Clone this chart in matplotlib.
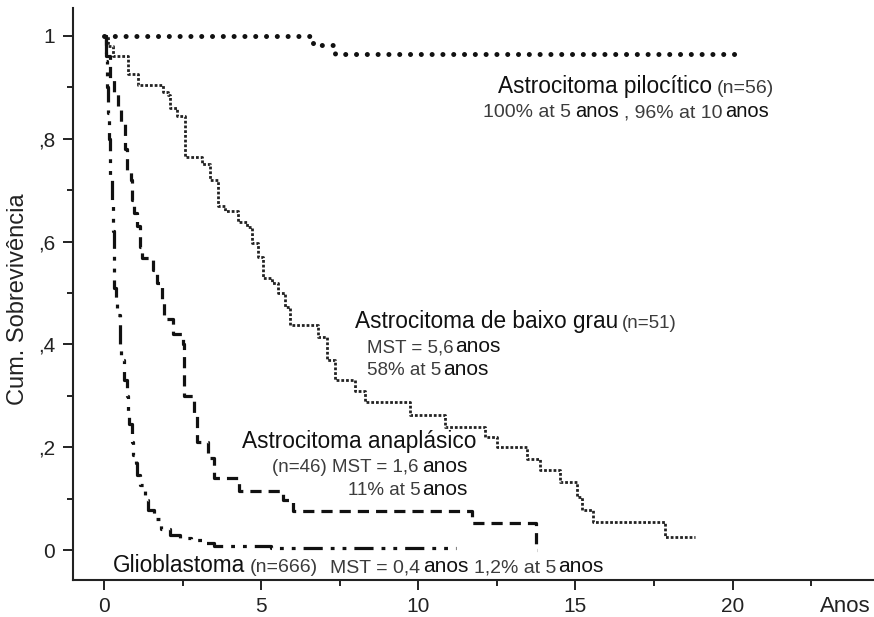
import matplotlib
matplotlib.use("Agg")
import matplotlib.pyplot as plt
from matplotlib.transforms import IdentityTransform

plt.rcParams['font.family'] = ['Liberation Sans', 'DejaVu Sans']

# Kaplan-Meier curves (time in years, cumulative survival)
pilo_t = [0, 6.65, 7.35, 20.3]
pilo_s = [1.0, 0.982, 0.964, 0.964]

baixo_t = [0, 0.13, 0.29, 0.76, 1.08, 1.88, 2.03, 2.1, 2.32, 2.58, 3.12, 3.37,
           3.62, 3.85, 4.26, 4.55, 4.71, 4.9, 5.06, 5.34, 5.53, 5.76, 5.91, 6.8,
           7.09, 7.34, 7.98, 8.3, 9.73, 10.84, 12.11, 12.5, 13.45, 13.86, 14.5,
           15.04, 15.2, 15.55, 17.84, 18.79]
baixo_s = [1.0, 0.98, 0.96, 0.925, 0.905, 0.89, 0.885, 0.86, 0.845, 0.765, 0.75, 0.72,
           0.67, 0.66, 0.638, 0.628, 0.597, 0.57, 0.53, 0.52, 0.50, 0.473, 0.438, 0.414,
           0.37, 0.33, 0.31, 0.288, 0.263, 0.24, 0.22, 0.20, 0.177, 0.156, 0.133,
           0.103, 0.078, 0.054, 0.025, 0.025]

ana_t = [0, 0.05, 0.2, 0.3, 0.45, 0.55, 0.65, 0.72, 0.85, 0.9, 0.95, 1.05, 1.15,
         1.2, 1.55, 1.68, 1.83, 1.9, 2.2, 2.5, 2.55, 2.85, 2.95, 3.3, 3.5, 4.3,
         5.7, 6.0, 11.7, 13.75, 13.77]
ana_s = [1.0, 0.96, 0.915, 0.89, 0.86, 0.83, 0.78, 0.74, 0.72, 0.68, 0.655, 0.63, 0.59,
         0.568, 0.545, 0.52, 0.486, 0.45, 0.42, 0.40, 0.30, 0.26, 0.21, 0.18, 0.14, 0.115,
         0.097, 0.076, 0.053, 0.0, 0.0]

glio_t = [0, 0.05, 0.1, 0.12, 0.15, 0.18, 0.2, 0.26, 0.28, 0.3, 0.33, 0.38, 0.42,
          0.5, 0.55, 0.63, 0.72, 0.76, 0.8, 0.88, 0.92, 1.0, 1.05, 1.15, 1.3, 1.4,
          1.6, 1.8, 2.1, 2.4, 2.75, 3.1, 3.5, 5.3, 11.2]
glio_s = [1.0, 0.95, 0.90, 0.85, 0.80, 0.78, 0.73, 0.67, 0.62, 0.58, 0.51, 0.49, 0.457,
          0.40, 0.37, 0.33, 0.30, 0.27, 0.245, 0.21, 0.185, 0.17, 0.146, 0.126, 0.097, 0.078,
          0.06, 0.042, 0.03, 0.024, 0.02, 0.014, 0.008, 0.004, 0.004]

x_ticks = [0, 5, 10, 15, 20]
x_minor = [2.5, 7.5, 12.5, 17.5, 22.5]
y_ticks = [0, 0.2, 0.4, 0.6, 0.8, 1.0]
y_labels = ['0', ',2', ',4', ',6', ',8', '1']
y_minor = [0.1, 0.3, 0.5, 0.7, 0.9]

BLACK = '#111111'
GRAY = '#3c3c3c'

fig = plt.figure(figsize=(8.74, 6.17), dpi=100)
ax = fig.add_axes([73 / 874, 37 / 617, 801 / 874, 572 / 617])

ax.plot(pilo_t, pilo_s, drawstyle='steps-post', color=BLACK, lw=3.6,
        linestyle=(0, (0.01, 2.15)), dash_capstyle='round')
ax.plot(baixo_t, baixo_s, drawstyle='steps-post', color='#222222', lw=2.0,
        linestyle=(0, (1, 0.7)))
ax.plot(ana_t, ana_s, drawstyle='steps-post', color=BLACK, lw=2.3,
        linestyle=(0, (3.5, 2.2)))
ax.plot(glio_t, glio_s, drawstyle='steps-post', color=BLACK, lw=2.3,
        linestyle=(0, (6, 2.5, 1.2, 2.5, 1.2, 2.5)))

ax.set_xlim(-0.99, 24.5)
ax.set_ylim(-0.058, 1.054)
ax.set_xticks(x_ticks)
ax.set_xticks(x_minor, minor=True)
ax.set_yticks(y_ticks)
ax.set_yticklabels(y_labels)
ax.set_yticks(y_minor, minor=True)

for side in ['top', 'right']:
    ax.spines[side].set_visible(False)
for side in ['left', 'bottom']:
    ax.spines[side].set_linewidth(1.5)
    ax.spines[side].set_color('#222222')
ax.tick_params(which='major', direction='out', length=7, width=1.4, color='#222222',
               labelsize=15, labelcolor='#222222')
ax.tick_params(which='minor', direction='out', length=4.5, width=1.4, color='#222222')
ax.tick_params(axis='y', pad=6)
ax.tick_params(axis='x', pad=5)

fig.text(18 / 874, 1 - 299 / 617, 'Cum. Sobrevivência', rotation=90,
         ha='center', va='center', fontsize=17, color='#222222')
fig.text(845 / 874, (617 - 612) / 617, 'Anos', ha='center', va='baseline',
         fontsize=16, color='#222222')

renderer = fig.canvas.get_renderer()


def chain(x, y, parts):
    px, py = ax.transData.transform((x, y))
    for s, size, color, gap in parts:
        px += gap
        t = ax.text(px, py, s, fontsize=size, color=color, va='baseline',
                    ha='left', transform=IdentityTransform())
        px = t.get_window_extent(renderer).x1


chain(12.53, 0.889, [('Astrocitoma pilocítico', 16.3, BLACK, 0),
                     ('(n=56)', 14, GRAY, 5)])
chain(12.05, 0.842, [('100% at 5', 14, GRAY, 0), ('anos', 14.5, BLACK, 4),
                     (', 96% at 10', 14, GRAY, 5), ('anos', 14.5, BLACK, 3)])

chain(7.98, 0.432, [('Astrocitoma de baixo grau', 16.3, BLACK, 0),
                    ('(n=51)', 13.5, GRAY, 4)])
chain(8.36, 0.385, [('MST = 5,6', 13.5, GRAY, 0), ('anos', 15, BLACK, 2)])
chain(8.36, 0.340, [('58% at 5', 13.5, GRAY, 0), ('anos', 15, BLACK, 2)])

chain(4.39, 0.198, [('Astrocitoma anaplásico', 16.3, BLACK, 0)])
chain(5.34, 0.152, [('(n=46) MST = 1,6', 13.5, GRAY, 0), ('anos', 15, BLACK, 4)])
chain(7.76, 0.107, [('11% at 5', 13.5, GRAY, 0), ('anos', 15, BLACK, 2)])

chain(0.29, -0.043, [('Glioblastoma', 16.3, BLACK, 0), ('(n=666)', 14, GRAY, 4),
                     ('MST = 0,4', 14, GRAY, 12), ('anos', 15, BLACK, 3),
                     ('1,2% at 5', 14, GRAY, 6), ('anos', 15, BLACK, 2)])

fig.savefig('out.png', dpi=100)
